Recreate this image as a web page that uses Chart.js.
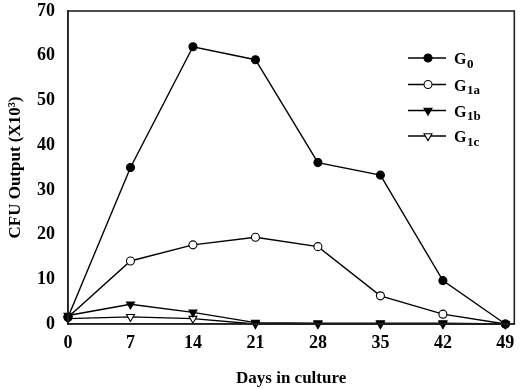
<!DOCTYPE html>
<html>
<head>
<meta charset="utf-8">
<script src="https://cdn.jsdelivr.net/npm/chart.js@4"></script>
<style>
  html, body { margin: 0; padding: 0; background: #fff; }
  #wrap { width: 520px; height: 389px; }
</style>
</head>
<body>
<div id="wrap"><canvas id="chart" width="520" height="389"></canvas></div>
<script>
// values
const days = [0, 7, 14, 21, 28, 35, 42, 49];
const g0  = [1.5, 35.0, 62.0, 59.1, 36.1, 33.3, 9.7, 0];
const g1a = [1.5, 14.1, 17.7, 19.4, 17.3, 6.3, 2.2, 0];
const g1b = [1.9, 4.4, 2.6, 0.3, 0.2, 0.2, 0.2, 0];
const g1c = [1.2, 1.6, 1.2, 0, 0, 0, 0, 0];
const xTicks = [0, 7, 14, 21, 28, 35, 42, 49];
const yTicks = [0, 10, 20, 30, 40, 50, 60, 70];
const legendNames = [['G', '0'], ['G', '1a'], ['G', '1b'], ['G', '1c']];

const serif = '"Liberation Serif", "Times New Roman", serif';

function series(vals, fill, style, rot) {
  return {
    data: days.map((d, i) => ({ x: d, y: vals[i] })),
    borderColor: '#000',
    borderWidth: 1.4,
    pointStyle: style,
    rotation: rot,
    pointRadius: style === 'triangle' ? 4.6 : 4,
    pointBackgroundColor: fill,
    pointBorderColor: '#000',
    pointBorderWidth: 1.1,
    tension: 0,
    clip: false
  };
}

// frame around the plot + legend with subscripts
const framePlugin = {
  id: 'frame',
  afterDraw(chart) {
    const { ctx, chartArea: a } = chart;
    ctx.save();
    ctx.strokeStyle = '#222';
    ctx.lineWidth = 1.6;
    ctx.strokeRect(a.left, a.top, a.right - a.left, a.bottom - a.top);

    const x0 = 408, x1 = 446, mx = 428, tx = 454;
    const rows = [58, 84.5, 110.5, 136];
    chart.data.datasets.forEach((ds, i) => {
      const y = rows[i];
      ctx.strokeStyle = '#000';
      ctx.lineWidth = 1.4;
      ctx.beginPath();
      ctx.moveTo(x0, y); ctx.lineTo(x1, y);
      ctx.stroke();
      ctx.fillStyle = ds.pointBackgroundColor;
      ctx.lineWidth = 1.1;
      Chart.helpers.drawPoint(ctx, {
        pointStyle: ds.pointStyle, rotation: ds.rotation || 0,
        radius: ds.pointRadius, borderWidth: 1.1
      }, mx, y);
      ctx.fillStyle = '#000';
      ctx.textBaseline = 'alphabetic';
      ctx.textAlign = 'left';
      ctx.font = 'bold 16px ' + serif;
      ctx.fillText(legendNames[i][0], tx, y + 6);
      const w = ctx.measureText(legendNames[i][0]).width;
      ctx.font = 'bold 13px ' + serif;
      ctx.fillText(legendNames[i][1], tx + w + 0.5, y + 9.5);
    });
    ctx.restore();
  }
};

new Chart(document.getElementById('chart'), {
  type: 'line',
  data: {
    datasets: [
      series(g0, '#000', 'circle', 0),
      series(g1a, '#fff', 'circle', 0),
      series(g1b, '#000', 'triangle', 180),
      series(g1c, '#fff', 'triangle', 180)
    ]
  },
  options: {
    responsive: false,
    animation: false,
    layout: { padding: { top: 11, right: 4, left: 0, bottom: 0 } },
    plugins: { legend: { display: false }, tooltip: { enabled: false } },
    scales: {
      x: {
        type: 'linear',
        min: 0,
        max: 50,
        afterBuildTicks: s => { s.ticks = xTicks.map(v => ({ value: v })); },
        afterFit: s => { s.height = 65; s.paddingLeft = 0; s.paddingRight = 0; },
        grid: { display: false, drawTicks: false },
        border: { color: '#222', width: 1.6 },
        ticks: { color: '#000', padding: 9, maxRotation: 0, font: { family: serif, size: 18, weight: 'bold', lineHeight: 1.2 } },
        title: {
          display: true, text: 'Days in culture', color: '#000',
          font: { family: serif, size: 17, weight: 'bold' },
          padding: { top: 0, bottom: 0 }
        }
      },
      y: {
        min: 0,
        max: 70,
        afterBuildTicks: s => { s.ticks = yTicks.map(v => ({ value: v })); },
        afterFit: s => { s.width = 68; s.paddingTop = 0; s.paddingBottom = 0; },
        grid: { display: false, drawTicks: false },
        border: { color: '#222', width: 1.6 },
        ticks: { color: '#000', padding: 13, font: { family: serif, size: 18, weight: 'bold', lineHeight: 1.2 } },
        title: {
          display: true, text: 'CFU Output (X10³)', color: '#000',
          font: { family: serif, size: 17, weight: 'bold' },
          padding: { top: 5, bottom: 0 }
        }
      }
    }
  },
  plugins: [framePlugin]
});
</script>
</body>
</html>
